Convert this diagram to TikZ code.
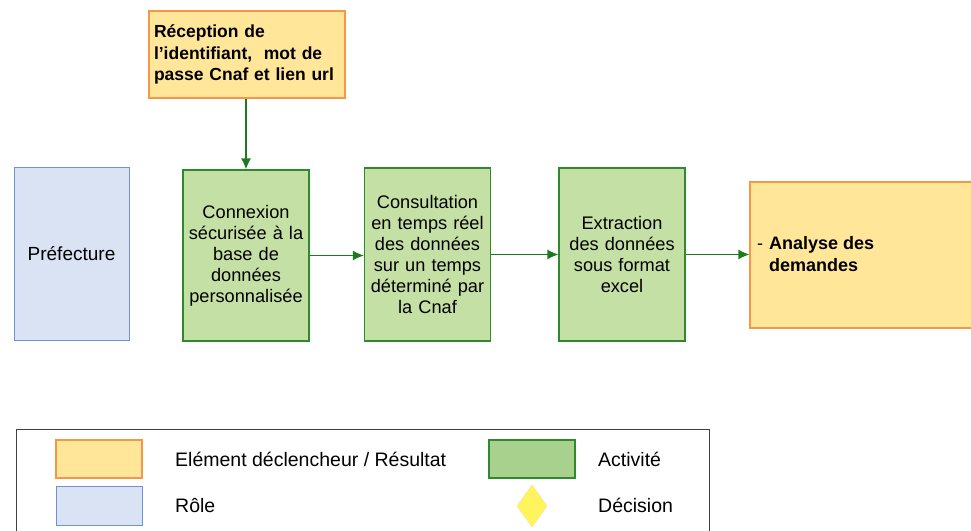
\documentclass[tikz,border=0pt]{standalone}
\usepackage{fontspec}
\setmainfont{Liberation Sans}
\usepackage{tikz}
\usetikzlibrary{arrows,arrows.meta,shapes.geometric,positioning}
\tikzset{>={Latex[length=11pt,width=10pt]}}

\definecolor{trigfill}{HTML}{FFE699}
\definecolor{trigline}{HTML}{F79646}
\definecolor{rolefill}{HTML}{DAE3F3}
\definecolor{roleline}{HTML}{6F92D2}
\definecolor{actfill}{HTML}{C5E0A5}
\definecolor{actline}{HTML}{2F8A2F}
\definecolor{legact}{HTML}{A9D18E}
\definecolor{flowcol}{HTML}{1D7A1D}
\definecolor{decfill}{HTML}{FFF45C}
\definecolor{decline}{HTML}{FFE98A}

\tikzset{
  trig/.style={draw=trigline, fill=trigfill, line width=1.2pt, inner sep=0pt},
  role/.style={draw=roleline, fill=rolefill, line width=1pt, inner sep=0pt},
  act/.style={draw=actline, fill=actfill, line width=1.2pt, inner sep=0pt,
    minimum width=126pt, align=center, text width=122pt},
  flow/.style={->, draw=flowcol, line width=1.3pt},
  leg/.style={anchor=west, inner sep=0pt, font=\fontsize{19.5}{21}\selectfont}
}

\begin{document}
\begin{tikzpicture}[x=1pt, y=-1pt, font=\fontsize{18.2}{21}\selectfont]
  \useasboundingbox (0,0) rectangle (971,530);

  % role
  \node[role, minimum width=115pt, minimum height=173pt, font=\fontsize{19}{21}\selectfont] (pref) at (71.5,253.5) {Préfecture};

  % trigger
  \node[trig, minimum width=196pt, minimum height=87pt, align=left, text width=186pt,
        font=\fontsize{17.5}{21.5}\selectfont\bfseries] (recep) at (247,54.5)
        {Réception de\\ l'identifiant,\ \ mot de\\ passe Cnaf et lien url};

  % activities
  \node[act, minimum height=171pt] (cnx) at (246,255.5)
        {Connexion\\ sécurisée à la\\ base de\\ données\\ personnalisée};
  \node[act, minimum height=173pt] (cons) at (427.5,254.5)
        {Consultation\\ en temps réel\\ des données\\ sur un temps\\ déterminé par\\ la Cnaf};
  \node[act, minimum height=173pt] (extr) at (622,254.5)
        {Extraction\\ des données\\ sous format\\ excel};

  % result
  \node[trig, minimum width=224pt, minimum height=146pt] (res) at (862,255) {};
  \node[anchor=west, align=left, inner sep=0pt, font=\fontsize{18}{22}\selectfont\bfseries] (restxt) at (757,254)
        {\makebox[12pt][l]{\mdseries -}Analyse des\\ \hspace*{12pt}demandes};

  % flow
  \draw[flow] (recep.south -| cnx.north) -- (cnx.north);
  \draw[flow] (cnx.east) -- (cons.west |- cnx.east);
  \draw[flow] (cons.east) -- (extr.west);
  \draw[flow] (extr.east) -- (res.west |- extr.east);

  % legend
  \draw[draw=black!75, line width=1pt] (16,429) rectangle (709,540);
  \node[trig, minimum width=86pt, minimum height=38pt] (ltrig) at (99,459) {};
  \node[leg] (ltrigtxt) at (175,459) {Elément déclencheur / Résultat};
  \node[role, minimum width=86pt, minimum height=39pt] (lrole) at (99,505.5) {};
  \node[leg] (lroletxt) at (175,505) {Rôle};
  \node[draw=actline, fill=legact, line width=1.2pt, minimum width=86pt, minimum height=38pt] (lact) at (532,459) {};
  \node[leg] (lacttxt) at (598,459) {Activité};
  \node[diamond, draw=decline, fill=decfill, line width=1pt, inner sep=0pt,
        minimum width=30pt, minimum height=42pt] (ldec) at (532,506) {};
  \node[leg] (ldectxt) at (598,505) {Décision};
\end{tikzpicture}
\end{document}
